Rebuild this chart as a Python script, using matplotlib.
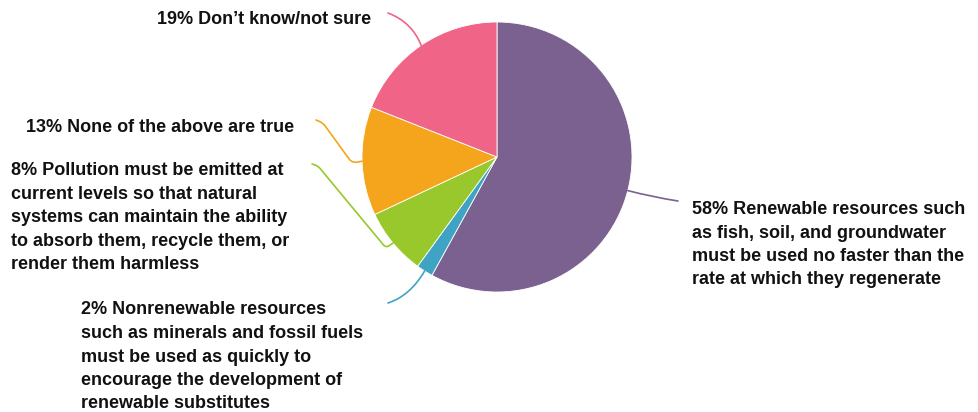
import numpy as np
import matplotlib
matplotlib.use("Agg")
import matplotlib.pyplot as plt
from matplotlib.path import Path
from matplotlib.patches import PathPatch

labels = [
    "58% Renewable resources such\nas fish, soil, and groundwater\nmust be used no faster than the\nrate at which they regenerate",
    "2% Nonrenewable resources\nsuch as minerals and fossil fuels\nmust be used as quickly to\nencourage the development of\nrenewable substitutes",
    "8% Pollution must be emitted at\ncurrent levels so that natural\nsystems can maintain the ability\nto absorb them, recycle them, or\nrender them harmless",
    "13% None of the above are true",
    "19% Don\u2019t know/not sure",
]
values = [58, 2, 8, 13, 19]
colors = ["#7B6190", "#3FA3C4", "#98C82B", "#F4A51C", "#EF6487"]

W, H = 979, 412
fig = plt.figure(figsize=(W / 100, H / 100), dpi=100)
ax = fig.add_axes([0, 0, 1, 1])

cx, cy, r = 497, 157, 135
# y axis is inverted (pixel-like), so counterclock=True in data is clockwise on screen
wedges, _ = ax.pie(values, colors=colors, startangle=-90, counterclock=True,
                   center=(cx, cy), radius=r, frame=True,
                   wedgeprops=dict(linewidth=0.6, edgecolor="white"))
ax.set_xlim(0, W)
ax.set_ylim(H, 0)
ax.axis("off")

# label layout: text anchor and leader path (points from the text side towards the pie)
layout = [
    dict(tx=692, ty=201, pts=[(678, 201), (652, 197)], kind="quad"),
    dict(tx=81, ty=301.5, pts=[(388, 303), (410, 296)], kind="quad"),
    dict(tx=11, ty=162, pts=[(312, 164), (318, 166), (386, 248)], kind="elbow"),
    dict(tx=26, ty=119, pts=[(316, 120), (323, 123), (352, 163)], kind="elbow"),
    dict(tx=157, ty=10.5, pts=[(388, 13), (412, 22)], kind="quad"),
]


def rounded_path(points, rad=5.0):
    pts = [np.array(p, float) for p in points]
    verts = [tuple(pts[0])]
    codes = [Path.MOVETO]
    for i in range(1, len(pts) - 1):
        a, b, c = pts[i - 1], pts[i], pts[i + 1]
        d1 = (a - b) / np.linalg.norm(a - b)
        d2 = (c - b) / np.linalg.norm(c - b)
        rr = min(rad, np.linalg.norm(a - b) / 2, np.linalg.norm(c - b) / 2)
        verts += [tuple(b + d1 * rr), tuple(b), tuple(b + d2 * rr)]
        codes += [Path.LINETO, Path.CURVE3, Path.CURVE3]
    verts.append(tuple(pts[-1]))
    codes.append(Path.LINETO)
    return Path(verts, codes)


for w, lab, lay, col in zip(wedges, labels, layout, colors):
    mid = np.deg2rad((w.theta1 + w.theta2) / 2)
    ex = cx + r * np.cos(mid)
    ey = cy + r * np.sin(mid)
    if lay["kind"] == "quad":
        start, ctrl = lay["pts"]
        path = Path([start, ctrl, (ex, ey)], [Path.MOVETO, Path.CURVE3, Path.CURVE3])
    else:
        path = rounded_path(lay["pts"] + [(ex, ey)], rad=6)
    ax.add_patch(PathPatch(path, fill=False, edgecolor=col, linewidth=1.2,
                           capstyle="round", joinstyle="round"))
    ax.text(lay["tx"], lay["ty"], lab, ha="left", va="top",
            fontsize=13, fontweight="bold", family="Liberation Sans",
            color="#111111", linespacing=1.5)

fig.savefig("out.png", dpi=100)
